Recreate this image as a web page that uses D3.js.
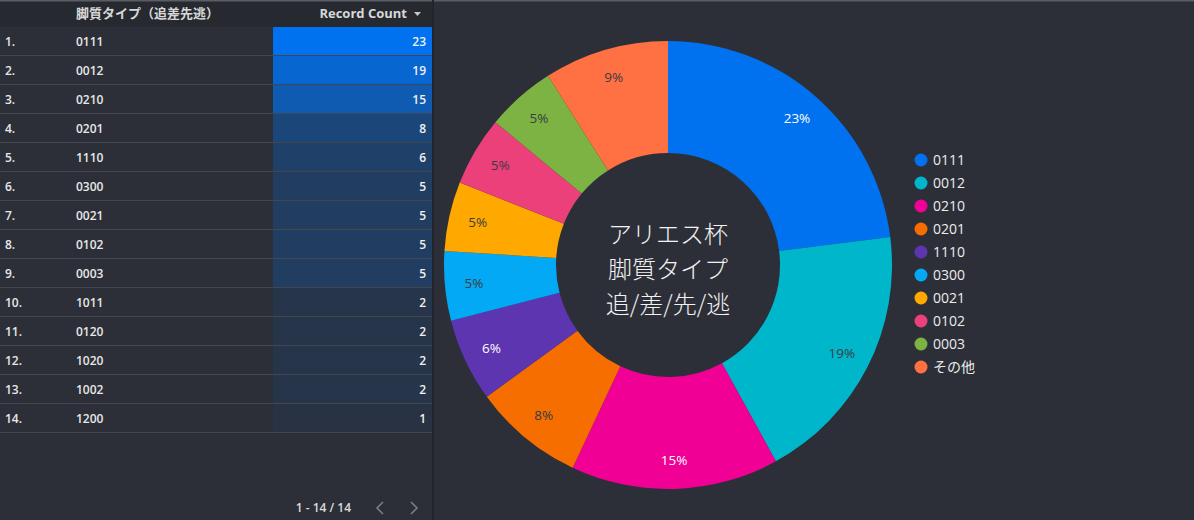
<!DOCTYPE html>
<html>
<head>
<meta charset="utf-8">
<script src="https://cdn.jsdelivr.net/npm/d3@7"></script>
<style>
  body { margin: 0; background: #2d2f38; overflow: hidden; }
  svg { display: block; font-family: "Open Sans", "Noto Sans CJK JP", sans-serif; }
</style>
</head>
<body>
<div id="chart-area"></div>
<script>
// table data
let types = ["0111", "0012", "0210", "0201", "1110", "0300", "0021", "0102", "0003", "1011", "0120", "1020", "1002", "1200"];
let counts = [23, 19, 15, 8, 6, 5, 5, 5, 5, 2, 2, 2, 2, 1];

// donut data (top 9 + others)
let pieLabels = ["0111", "0012", "0210", "0201", "1110", "0300", "0021", "0102", "0003", "その他"];
let pieValues = [23, 19, 15, 8, 6, 5, 5, 5, 5, 9];
let pieColors = ["#0072f0", "#00b6cb", "#f10096", "#f66d00", "#5e35b1", "#03a9f4", "#ffa800", "#ec407a", "#7cb342", "#ff7043"];
let darkLabel = ["0012", "0201", "0300", "0021", "0102", "0003", "その他"];
let centerLines = ["アリエス杯", "脚質タイプ", "追/差/先/逃"];

let W = 1194, H = 520;
let svg = d3.select("#chart-area")
    .append("svg")
    .attr("width", W)
    .attr("height", H);

// ---------- table ----------
let tableW = 432, headH = 27, rowH = 29;
let barX = 273;

svg.append("rect").attr("x", 0).attr("y", 0).attr("width", tableW).attr("height", H).attr("fill", "#2c2f37");
svg.append("rect").attr("x", 0).attr("y", 0).attr("width", tableW).attr("height", headH).attr("fill", "#262a30");
svg.append("rect").attr("x", 0).attr("y", 0).attr("width", W).attr("height", 1.5).attr("fill", "#5a5d63");
svg.append("rect").attr("x", tableW).attr("y", 0).attr("width", 2).attr("height", H).attr("fill", "#22252b");

let rowY = d3.scaleBand()
    .domain(types)
    .range([headH, headH + rowH * types.length]);

let heat = d3.scaleLinear()
    .domain([0, d3.max(counts)])
    .range(["#2a2f3a", "#0072f0"]);

let rows = svg.selectAll("g.row")
    .data(types)
    .enter()
    .append("g")
    .attr("class", "row")
    .attr("transform", function(d){ return "translate(0," + rowY(d) + ")"; });

rows.append("rect")
    .attr("x", barX)
    .attr("y", 0)
    .attr("width", tableW - barX)
    .attr("height", rowH)
    .attr("fill", function(d, i){ return heat(counts[i]); });

rows.append("rect")
    .attr("x", 0)
    .attr("y", rowH - 1)
    .attr("width", tableW)
    .attr("height", 1)
    .attr("fill", "#43464c");

rows.append("text")
    .attr("x", 5).attr("y", rowH / 2 + 4)
    .attr("font-size", 12).attr("font-weight", 600).attr("fill", "#e8e8e8")
    .text(function(d, i){ return (i + 1) + "."; });

rows.append("text")
    .attr("x", 76).attr("y", rowH / 2 + 4)
    .attr("font-size", 12).attr("font-weight", 600).attr("fill", "#e8e8e8")
    .text(function(d){ return d; });

rows.append("text")
    .attr("x", 426).attr("y", rowH / 2 + 4)
    .attr("text-anchor", "end")
    .attr("font-size", 12).attr("font-weight", 600).attr("fill", "#f0f0f0")
    .text(function(d, i){ return counts[i]; });

// header
svg.append("text")
    .attr("x", 76).attr("y", 18)
    .attr("font-size", 13).attr("font-weight", 700).attr("fill", "#d8d8d8")
    .text("脚質タイプ（追差先逃）");
svg.append("text")
    .attr("x", 407).attr("y", 18)
    .attr("text-anchor", "end")
    .attr("font-size", 13).attr("font-weight", 700).attr("fill", "#d8d8d8")
    .text("Record Count");
svg.append("path")
    .attr("d", "M414,12 L421,12 L417.5,16 Z")
    .attr("fill", "#c8c8c8");

// pagination
svg.append("text")
    .attr("x", 351).attr("y", 512)
    .attr("text-anchor", "end")
    .attr("font-size", 12).attr("font-weight", 600).attr("fill", "#dcdcdc")
    .text("1 - 14 / 14");
svg.append("path")
    .attr("d", "M383,502 L377,508 L383,514")
    .attr("fill", "none").attr("stroke", "#7a7d83").attr("stroke-width", 1.6);
svg.append("path")
    .attr("d", "M411,502 L417,508 L411,514")
    .attr("fill", "none").attr("stroke", "#7a7d83").attr("stroke-width", 1.6);

// ---------- donut ----------
let cx = 668, cy = 265, R = 224, r0 = 112;
let g = svg.append("g").attr("transform", "translate(" + cx + "," + cy + ")");

let pie = d3.pie().sort(null).value(function(d){ return d; });
let arcs = pie(pieValues);
let arc = d3.arc().innerRadius(r0).outerRadius(R);
let labelArc = d3.arc().innerRadius(195).outerRadius(195);
let color = d3.scaleOrdinal().domain(pieLabels).range(pieColors);
let total = d3.sum(pieValues);

g.selectAll("path.slice")
    .data(arcs)
    .enter()
    .append("path")
    .attr("class", "slice")
    .attr("d", arc)
    .attr("fill", function(d, i){ return color(pieLabels[i]); });

g.selectAll("text.pct")
    .data(arcs)
    .enter()
    .append("text")
    .attr("class", "pct")
    .attr("transform", function(d){ return "translate(" + labelArc.centroid(d) + ")"; })
    .attr("text-anchor", "middle")
    .attr("dy", "0.35em")
    .attr("font-size", 13.5)
    .attr("fill", function(d, i){ return darkLabel.indexOf(pieLabels[i]) >= 0 ? "#3a3c42" : "#ffffff"; })
    .text(function(d){ return Math.round(d.value / total * 100) + "%"; });

g.selectAll("text.center")
    .data(centerLines)
    .enter()
    .append("text")
    .attr("class", "center")
    .attr("x", 0)
    .attr("y", function(d, i){ return (i - 1) * 35 + 5; })
    .attr("dy", "0.35em")
    .attr("text-anchor", "middle")
    .attr("font-family", "Noto Sans CJK JP")
    .attr("font-size", 24)
    .attr("font-weight", 300)
    .attr("fill", "#f2f2f2")
    .text(function(d){ return d; });

// ---------- legend ----------
let legY = d3.scalePoint()
    .domain(pieLabels)
    .range([160, 367]);

let leg = svg.selectAll("g.leg")
    .data(pieLabels)
    .enter()
    .append("g")
    .attr("class", "leg")
    .attr("transform", function(d){ return "translate(921," + legY(d) + ")"; });

leg.append("circle").attr("r", 6.5).attr("fill", function(d){ return color(d); });
leg.append("text")
    .attr("x", 12).attr("dy", "0.35em")
    .attr("font-size", 14).attr("fill", "#ececec")
    .text(function(d){ return d; });
</script>
</body>
</html>
